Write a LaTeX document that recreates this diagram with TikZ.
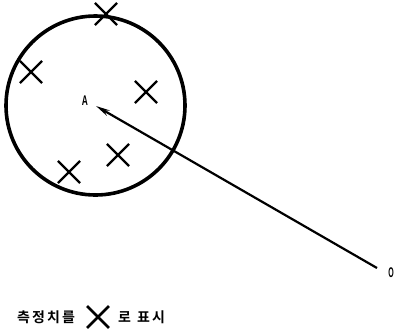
\documentclass[tikz,border=0pt]{standalone}
\usepackage{fontspec}
\usepackage{tikz}
\usetikzlibrary{shapes.misc,arrows.meta}
\setsansfont{Liberation Sans}
\newfontfamily\kr{Noto Sans CJK KR}[BoldFont={Noto Sans CJK KR Bold},LetterSpace=15]
\tikzset{
  meas/.style={draw,cross out,minimum size=20pt,inner sep=0pt,line width=2.2pt},
  lbl/.style={font=\sffamily\bfseries\fontsize{14}{14}\selectfont,inner sep=0.5pt},
  legtext/.style={font=\kr\bfseries\fontsize{14}{14}\selectfont,anchor=west,inner sep=0pt}
}
\begin{document}
\begin{tikzpicture}[x=1pt,y=-1pt]
\useasboundingbox (0,0) rectangle (395,333);
\draw[line width=3.6pt] (95.5,105.5) circle (89.5);
% measured points
\node[meas] (m1) at (106,14) {};
\node[meas] (m2) at (31,72) {};
\node[meas] (m3) at (146,92) {};
\node[meas] (m4) at (118,155) {};
\node[meas] (m5) at (69,172) {};
% A and O
\node[lbl,xscale=0.6] (A) at (85,101) {A};
\node[lbl,xscale=0.5] (O) at (391,273) {O};
\coordinate (tip) at (96,106);
\coordinate (end) at (377,268);
\draw[line width=2.2pt,-{Stealth[length=14pt,width=6pt]}] (end) -- (tip);
% legend
\node[legtext] (t1) at (17,317) {측정치를};
\node[meas,minimum size=19pt,line width=2.8pt] (leg) at (98,317) {};
\node[legtext] (t2) at (118,317) {로\hspace{6pt}표시};
\end{tikzpicture}
\end{document}
